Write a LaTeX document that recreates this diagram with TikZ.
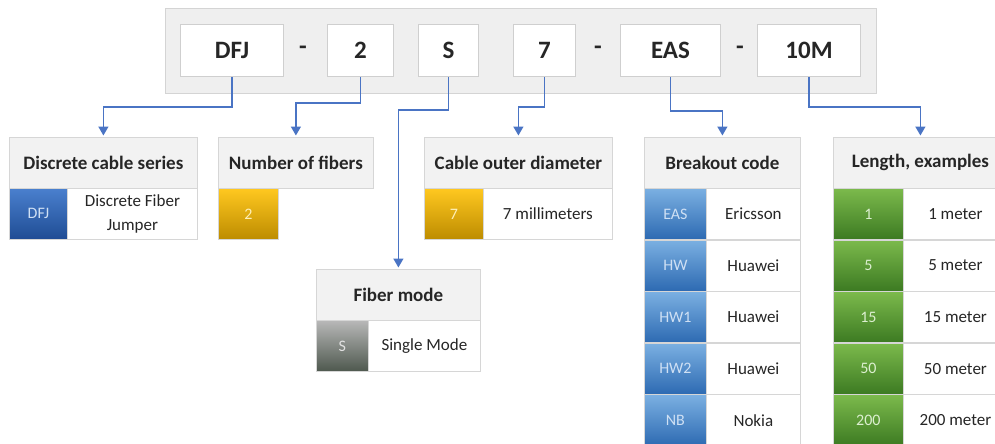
\documentclass[tikz,border=0pt]{standalone}
\usepackage{fontspec}
\setmainfont{Carlito}
\usetikzlibrary{arrows.meta}
\definecolor{outerfill}{HTML}{EFEFEF}
\definecolor{outerline}{HTML}{D4D4D4}
\definecolor{boxline}{HTML}{CFCFCF}
\definecolor{hdrfill}{HTML}{F2F2F2}
\definecolor{cellline}{HTML}{D6D6D6}
\definecolor{txt}{HTML}{262626}
\definecolor{arrowblue}{HTML}{4A74C4}
\definecolor{dblueA}{HTML}{4A80CE}
\definecolor{dblueB}{HTML}{1F4C94}
\definecolor{lblueA}{HTML}{7BB0E2}
\definecolor{lblueB}{HTML}{2D6AB2}
\definecolor{yelA}{HTML}{FFC820}
\definecolor{yelB}{HTML}{BD8C00}
\definecolor{grayA}{HTML}{B8B8B8}
\definecolor{grayB}{HTML}{4E584E}
\definecolor{grnA}{HTML}{7CBA4C}
\definecolor{grnB}{HTML}{3C7A22}
\definecolor{btxt}{HTML}{CFE0F4}
\definecolor{ytxt}{HTML}{FFF0B8}
\definecolor{gtxt}{HTML}{E2E2E2}
\definecolor{grtxt}{HTML}{DCEFD0}
\tikzset{
  outerbox/.style={draw=outerline, fill=outerfill, line width=1.2pt, anchor=north west, inner sep=0pt},
  codebox/.style={draw=boxline, fill=white, line width=1pt, anchor=north west, inner sep=0pt,
    minimum height=52pt, text=txt, font=\bfseries\fontsize{25}{25}\selectfont},
  dashlbl/.style={text=txt, font=\bfseries\fontsize{25}{25}\selectfont, inner sep=0pt},
  hdr/.style={draw=cellline, fill=hdrfill, line width=0.8pt, anchor=north west, inner sep=0pt,
    minimum height=51pt, text=txt, font=\bfseries\fontsize{19}{19}\selectfont},
  tcell/.style={draw=cellline, fill=white, line width=0.8pt, anchor=north west, inner sep=0pt,
    minimum height=51pt, text=txt, align=center, font=\fontsize{17}{24}\selectfont},
  ccell/.style n args={3}{top color=#1, bottom color=#2, draw=cellline, line width=0.8pt,
    anchor=north west, inner sep=0pt, minimum height=51pt, text=#3, font=\fontsize{16}{16}\selectfont},
  conn/.style={draw=arrowblue, line width=1.5pt, -{Triangle[length=9pt,width=10pt]}, shorten >=1.5pt}
}
\begin{document}
\begin{tikzpicture}[x=1pt,y=-1pt]
\useasboundingbox (0,0) rectangle (995,444);
\clip (0,0) rectangle (995,444);

% outer code box
\node[outerbox, minimum width=711pt, minimum height=85pt] (outer) at (165,8) {};
\node[codebox, minimum width=103pt] (dfj) at (180,24) {DFJ};
\node[dashlbl] (d1) at (303,50) {-};
\node[codebox, minimum width=66pt] (two) at (327,24) {2};
\node[codebox, minimum width=60pt] (s) at (418,24) {S};
\node[codebox, minimum width=62pt] (seven) at (513,24) {7};
\node[dashlbl] (d2) at (598,50) {-};
\node[codebox, minimum width=100pt] (eas) at (620,24) {EAS};
\node[dashlbl] (d3) at (740,50) {-};
\node[codebox, minimum width=103pt] (tenm) at (757,24) {10M};

% table 1
\node[hdr, minimum width=188pt] (h1) at (9,137) {Discrete cable series};
\node[ccell={dblueA}{dblueB}{btxt}, minimum width=58pt] (c1) at (9,188) {DFJ};
\node[tcell, minimum width=130pt] (t1) at (67,188) {Discrete Fiber\\Jumper};

% table 2
\node[hdr, minimum width=155pt] (h2) at (218,137) {Number of fibers};
\node[ccell={yelA}{yelB}{ytxt}, minimum width=60pt] (c2) at (218,188) {2};

% table 3
\node[hdr, minimum width=188pt] (h3) at (424,137) {Cable outer diameter};
\node[ccell={yelA}{yelB}{ytxt}, minimum width=59pt] (c3) at (424,188) {7};
\node[tcell, minimum width=129pt] (t3) at (483,188) {7 millimeters};

% table 4
\node[hdr, minimum width=164pt] (h4) at (316,269) {Fiber mode};
\node[ccell={grayA}{grayB}{gtxt}, minimum width=52pt] (c4) at (316,320) {S};
\node[tcell, minimum width=112pt] (t4) at (368,320) {Single Mode};

% table 5
\node[hdr, minimum width=156pt] (h5) at (644,137) {Breakout code};
\node[ccell={lblueA}{lblueB}{btxt}, minimum width=62pt] (c5a) at (644,188) {EAS};
\node[tcell, minimum width=94pt] (t5a) at (706,188) {Ericsson};
\node[ccell={lblueA}{lblueB}{btxt}, minimum width=62pt] (c5b) at (644,239.6) {HW};
\node[tcell, minimum width=94pt] (t5b) at (706,239.6) {Huawei};
\node[ccell={lblueA}{lblueB}{btxt}, minimum width=62pt] (c5c) at (644,291.2) {HW1};
\node[tcell, minimum width=94pt] (t5c) at (706,291.2) {Huawei};
\node[ccell={lblueA}{lblueB}{btxt}, minimum width=62pt] (c5d) at (644,342.8) {HW2};
\node[tcell, minimum width=94pt] (t5d) at (706,342.8) {Huawei};
\node[ccell={lblueA}{lblueB}{btxt}, minimum width=62pt] (c5e) at (644,394.4) {NB};
\node[tcell, minimum width=94pt] (t5e) at (706,394.4) {Nokia};

% table 6
\node[hdr, minimum width=174pt] (h6) at (833,137) {Length, examples};
\node[ccell={grnA}{grnB}{grtxt}, minimum width=70pt] (c6a) at (833,188) {1};
\node[tcell, minimum width=104pt] (t6a) at (903,188) {1 meter};
\node[ccell={grnA}{grnB}{grtxt}, minimum width=70pt] (c6b) at (833,239.6) {5};
\node[tcell, minimum width=104pt] (t6b) at (903,239.6) {5 meter};
\node[ccell={grnA}{grnB}{grtxt}, minimum width=70pt] (c6c) at (833,291.2) {15};
\node[tcell, minimum width=104pt] (t6c) at (903,291.2) {15 meter};
\node[ccell={grnA}{grnB}{grtxt}, minimum width=70pt] (c6d) at (833,342.8) {50};
\node[tcell, minimum width=104pt] (t6d) at (903,342.8) {50 meter};
\node[ccell={grnA}{grnB}{grtxt}, minimum width=70pt] (c6e) at (833,394.4) {200};
\node[tcell, minimum width=104pt] (t6e) at (903,394.4) {200 meter};

% connectors
\draw[conn] (dfj.south) -- ++(0,30) -| (h1.north);
\draw[conn] (two.south) -- ++(0,26) -| (h2.north);
\draw[conn] (s.south) -- ++(0,33) -| (h4.north);
\draw[conn] (seven.south) -- ++(0,30) -| (h3.north);
\draw[conn] (eas.south) -- ++(0,34) -| (h5.north);
\draw[conn] (tenm.south) -- ++(0,30) -| (h6.north);
\end{tikzpicture}
\end{document}
